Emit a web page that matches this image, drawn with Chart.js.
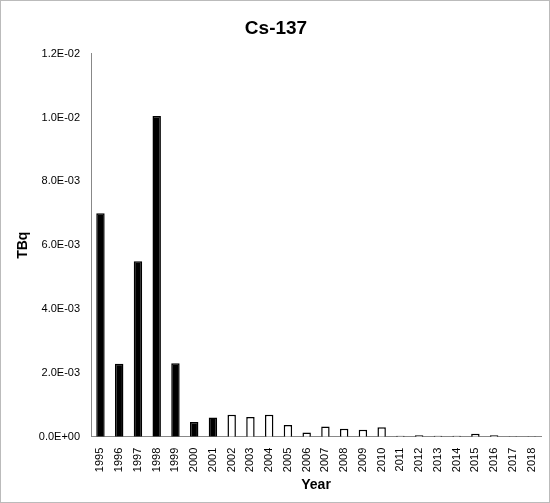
<!DOCTYPE html>
<html>
<head>
<meta charset="utf-8">
<script src="https://cdn.jsdelivr.net/npm/chart.js@4"></script>
<style>
  html, body { margin: 0; padding: 0; background: #fff; }
  #wrap { width: 548px; height: 501px; border: 1px solid #bbb; }
</style>
</head>
<body>
<div id="wrap"><canvas id="c" width="548" height="501"></canvas></div>
<script>
// ====== Data ======
const years = ['1995','1996','1997','1998','1999','2000','2001','2002','2003','2004','2005','2006',
               '2007','2008','2009','2010','2011','2012','2013','2014','2015','2016','2017','2018'];
const tbq = [7.0e-3, 2.29e-3, 5.5e-3, 10.05e-3, 2.3e-3, 0.46e-3, 0.6e-3, 0.69e-3, 0.62e-3, 0.69e-3,
             0.37e-3, 0.13e-3, 0.32e-3, 0.25e-3, 0.22e-3, 0.30e-3, 0.03e-3, 0.05e-3, 0.03e-3, 0.03e-3,
             0.09e-3, 0.05e-3, 0.012e-3, 0.012e-3];
const lastFilledYear = 2001;

const fills = years.map(y => (+y <= lastFilledYear ? '#000' : '#fff'));
const fmt = v => {
    if (v === 0) return '0.0E+00';
    const e = Math.floor(Math.log10(Math.abs(v)) + 1e-9);
    const m = v / Math.pow(10, e);
    return m.toFixed(1) + 'E' + (e < 0 ? '-' : '+') + String(Math.abs(e)).padStart(2, '0');
};

new Chart(document.getElementById('c'), {
    type: 'bar',
    data: {
        labels: years,
        datasets: [{
            data: tbq,
            backgroundColor: fills,
            borderColor: '#000',
            borderWidth: 1.5,
            categoryPercentage: 1,
            barPercentage: 0.45
        }]
    },
    options: {
        responsive: false,
        animation: false,
        layout: { padding: { left: 10, right: 8, top: 4, bottom: 4 } },
        plugins: {
            legend: { display: false },
            tooltip: { enabled: false },
            title: {
                display: true,
                text: 'Cs-137',
                color: '#000',
                font: { family: 'Liberation Sans', size: 19, weight: 'bold' },
                padding: { top: 12, bottom: 14 }
            }
        },
        scales: {
            y: {
                min: 0, max: 0.012,
                ticks: {
                    stepSize: 0.002,
                    callback: v => fmt(v),
                    color: '#000',
                    font: { family: 'Liberation Sans', size: 11 }
                },
                grid: { display: false, drawTicks: true },
                border: { color: '#888' },
                title: {
                    display: true, text: 'TBq', color: '#000',
                    font: { family: 'Liberation Sans', size: 14, weight: 'bold' }
                }
            },
            x: {
                ticks: {
                    maxRotation: 90, minRotation: 90,
                    color: '#000',
                    font: { family: 'Liberation Sans', size: 11 }
                },
                grid: { display: false },
                border: { color: '#888' },
                title: {
                    display: true, text: 'Year', color: '#000',
                    font: { family: 'Liberation Sans', size: 14, weight: 'bold' },
                    padding: { top: 2 }
                }
            }
        }
    }
});
</script>
</body>
</html>
